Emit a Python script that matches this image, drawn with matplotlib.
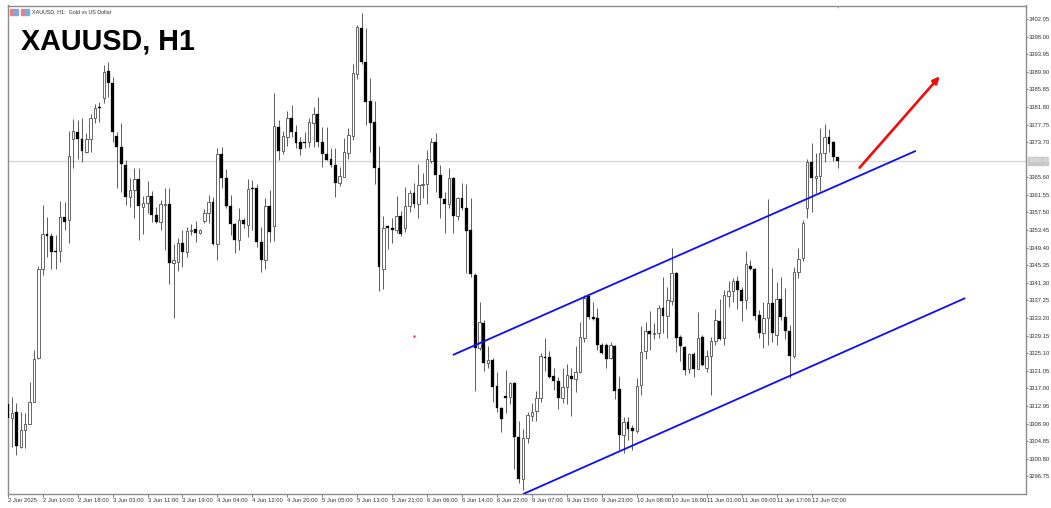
import matplotlib
matplotlib.use("Agg")
import matplotlib.pyplot as plt
from matplotlib.patches import Rectangle

# 1) Candle data (hourly bars read off the chart)
opens = [3313.4,3310.2,3311.6,3303.6,3307.5,3308.8,3313.9,3323.9,3344.5,3352.6,
 3352.1,3348.7,3348.7,3356.5,3355.8,3374.4,3376.0,3374.4,3371.4,3374.4,
 3379.3,3381.8,3383.9,3390.1,3387.3,3375.1,3372.6,3368.4,3361.1,3362.7,
 3365.2,3358.8,3359.7,3361.3,3356.9,3355.3,3359.2,3359.5,3345.9,3346.1,
 3350.5,3348.4,3353.3,3353.7,3352.8,3355.6,3357.4,3359.9,3350.3,3371.0,
 3365.4,3359.0,3354.9,3351.2,3355.8,3354.6,3363.2,3363.2,3350.7,3346.6,
 3359.0,3354.4,3377.2,3371.7,3374.9,3379.3,3376.0,3373.7,3373.7,3373.7,
 3378.1,3380.2,3373.7,3371.0,3369.8,3368.4,3364.3,3365.7,3371.2,3375.1,
 3389.4,3400.0,3392.2,3383.2,3378.3,3367.8,3344.5,3354.4,3353.9,3353.5,
 3356.7,3353.9,3359.0,3362.0,3359.5,3363.8,3364.1,3369.4,3373.7,3366.1,
 3360.6,3359.5,3365.4,3356.7,3360.9,3358.6,3353.5,3343.1,3326.3,3332.1,
 3322.9,3323.6,3317.6,3312.5,3315.3,3315.1,3318.3,3305.8,3296.2,3305.6,
 3310.7,3311.8,3314.8,3324.3,3324.3,3319.9,3318.7,3314.8,3317.4,3319.9,
 3319.2,3320.8,3328.6,3338.3,3333.5,3333.2,3327.0,3327.0,3324.0,3326.8,
 3316.9,3306.3,3309.3,3307.9,3307.2,3317.8,3325.6,3330.2,3329.6,3329.8,
 3335.5,3333.7,3337.1,3343.6,3328.9,3326.6,3321.5,3325.0,3321.5,3328.9,
 3321.7,3324.5,3327.9,3332.5,3328.6,3338.3,3339.4,3341.7,3339.7,3337.4,
 3345.2,3344.5,3333.9,3329.8,3333.2,3336.7,3329.3,3337.6,3333.5,3330.2,
 3324.5,3343.8,3347.0,3358.6,3369.1,3365.4,3365.9,3371.2,3374.9,3373.7,3370.3]

highs = [3313.4,3315.1,3313.7,3311.6,3311.4,3318.5,3325.9,3345.2,3359.2,3356.5,
 3352.8,3352.3,3360.2,3359.9,3376.3,3379.0,3378.8,3379.3,3375.8,3380.2,
 3382.5,3382.9,3391.5,3392.2,3388.7,3376.0,3378.1,3369.6,3365.4,3367.8,
 3367.8,3361.3,3364.8,3362.4,3358.8,3360.4,3363.2,3363.2,3350.3,3351.6,
 3353.5,3354.2,3354.9,3355.6,3353.7,3358.3,3361.5,3361.1,3372.4,3372.6,
 3367.5,3361.5,3355.1,3358.6,3356.3,3365.2,3365.0,3364.1,3354.2,3360.9,
 3362.7,3385.0,3378.8,3376.3,3380.9,3382.3,3377.7,3374.9,3376.0,3379.3,
 3381.8,3384.1,3377.2,3377.2,3372.4,3372.4,3368.0,3374.7,3377.0,3391.7,
 3400.7,3403.4,3400.0,3388.5,3383.2,3372.8,3356.7,3354.6,3356.2,3361.3,
 3357.9,3363.4,3362.7,3364.3,3368.7,3366.6,3371.9,3374.7,3375.8,3368.4,
 3362.2,3367.8,3365.7,3361.1,3364.3,3364.1,3360.9,3343.6,3336.9,3332.8,
 3326.8,3324.0,3320.8,3312.8,3321.3,3318.5,3318.5,3309.5,3307.7,3311.6,
 3313.7,3316.4,3325.2,3328.6,3325.6,3321.7,3319.7,3321.7,3322.6,3321.7,
 3326.8,3332.3,3338.5,3338.5,3336.9,3335.5,3327.5,3327.5,3327.7,3327.0,
 3319.9,3310.4,3310.4,3308.6,3319.4,3331.4,3332.3,3334.8,3332.1,3336.2,
 3342.7,3340.4,3349.3,3343.8,3329.3,3326.8,3325.2,3325.4,3334.6,3329.3,
 3325.9,3328.9,3335.3,3337.6,3339.7,3341.7,3342.4,3342.9,3340.4,3348.7,
 3346.6,3344.7,3335.1,3336.9,3360.6,3344.7,3341.5,3342.7,3340.1,3331.6,
 3345.0,3349.3,3355.8,3369.8,3373.5,3371.2,3377.0,3377.9,3376.7,3374.0,3370.3]

lows = [3310.2,3303.5,3301.7,3303.3,3303.3,3308.8,3313.9,3323.8,3343.1,3347.3,
 3344.5,3344.5,3346.1,3353.5,3350.5,3367.8,3369.8,3369.1,3371.2,3371.4,
 3378.1,3378.3,3382.7,3384.1,3373.7,3363.1,3362.2,3359.2,3358.8,3356.3,
 3351.2,3352.6,3357.4,3355.3,3355.1,3353.5,3348.9,3341.1,3333.2,3344.1,
 3345.0,3347.3,3352.3,3350.7,3352.6,3355.1,3355.1,3350.0,3346.6,3363.2,
 3358.6,3352.3,3348.2,3348.9,3353.9,3351.9,3353.5,3349.6,3343.8,3344.5,
 3350.7,3351.0,3369.6,3371.0,3372.8,3374.9,3372.4,3370.8,3372.4,3372.6,
 3372.6,3372.6,3368.0,3369.6,3368.0,3361.1,3363.6,3365.7,3369.8,3374.2,
 3388.2,3391.7,3377.7,3371.4,3364.1,3339.4,3339.9,3349.1,3350.5,3352.8,
 3352.1,3353.0,3357.6,3358.6,3356.3,3360.9,3359.5,3368.9,3362.2,3356.3,
 3352.8,3358.6,3352.8,3355.8,3358.1,3343.6,3342.7,3316.4,3325.9,3321.0,
 3321.7,3313.9,3311.6,3307.0,3311.4,3313.4,3298.5,3295.3,3293.7,3304.5,
 3309.5,3309.5,3313.9,3321.0,3319.4,3316.7,3312.3,3313.7,3313.4,3310.7,
 3316.2,3320.6,3327.7,3333.0,3332.8,3325.9,3325.0,3321.7,3323.8,3314.6,
 3302.9,3302.2,3305.2,3302.9,3306.8,3315.5,3323.8,3325.9,3328.4,3328.6,
 3329.8,3328.6,3336.2,3325.4,3323.3,3320.1,3320.6,3319.7,3321.5,3322.2,
 3320.8,3315.5,3327.0,3328.2,3327.0,3335.8,3336.9,3335.3,3332.5,3335.3,
 3344.3,3332.8,3328.6,3326.3,3327.0,3327.7,3327.0,3332.8,3328.4,3319.4,
 3324.0,3342.4,3346.4,3356.3,3357.6,3362.0,3362.5,3369.1,3371.4,3369.4,3367.8]

closes = [3310.2,3311.4,3303.8,3307.5,3308.8,3313.9,3323.8,3344.5,3352.6,3352.1,
 3348.4,3348.4,3356.5,3355.3,3370.5,3376.3,3374.4,3371.7,3374.4,3379.3,
 3381.6,3381.6,3389.9,3387.3,3376.0,3372.6,3368.7,3361.1,3362.7,3365.2,
 3359.0,3359.7,3361.3,3356.9,3355.3,3359.5,3359.5,3345.9,3346.6,3350.5,
 3348.4,3353.3,3353.5,3352.8,3353.5,3357.4,3359.9,3350.3,3371.0,3365.4,
 3359.0,3354.9,3351.2,3355.8,3354.9,3362.9,3362.9,3350.7,3346.6,3359.0,
 3353.0,3377.4,3371.7,3375.1,3379.3,3376.0,3373.5,3372.1,3373.5,3378.3,
 3380.2,3373.7,3371.0,3369.6,3368.4,3364.3,3365.9,3371.4,3375.3,3389.6,
 3400.2,3392.2,3382.9,3378.1,3367.8,3345.0,3353.9,3353.9,3353.5,3356.7,
 3352.6,3359.0,3362.0,3359.5,3363.8,3364.1,3369.8,3373.7,3366.1,3360.9,
 3359.5,3365.4,3356.7,3360.9,3358.6,3353.3,3343.4,3326.3,3332.3,3322.9,
 3323.6,3317.4,3312.5,3310.0,3314.8,3318.3,3305.8,3296.2,3305.6,3310.9,
 3311.6,3314.8,3324.5,3324.0,3319.7,3318.7,3314.8,3317.4,3320.1,3319.2,
 3320.8,3328.9,3337.8,3333.5,3333.0,3327.0,3325.2,3323.8,3327.0,3316.4,
 3306.3,3309.3,3307.7,3307.2,3317.6,3325.4,3330.2,3329.6,3329.8,3335.5,
 3333.7,3337.4,3343.6,3328.6,3326.8,3321.3,3325.0,3321.5,3328.6,3322.4,
 3324.5,3327.9,3332.8,3328.4,3338.5,3339.4,3341.7,3339.7,3337.1,3345.7,
 3344.5,3333.7,3329.8,3333.2,3336.7,3329.8,3337.6,3333.5,3330.2,3324.5,
 3343.8,3346.8,3355.1,3369.1,3365.4,3365.9,3371.2,3374.9,3373.3,3370.3,3369.4]

date_labels = ["2 Jun 2025", "2 Jun 10:00", "2 Jun 18:00", "3 Jun 03:00", "3 Jun 11:00",
               "3 Jun 19:00", "4 Jun 04:00", "4 Jun 12:00", "4 Jun 20:00", "5 Jun 05:00",
               "5 Jun 13:00", "5 Jun 21:00", "6 Jun 06:00", "6 Jun 14:00", "6 Jun 22:00",
               "9 Jun 07:00", "9 Jun 15:00", "9 Jun 23:00", "10 Jun 08:00", "10 Jun 16:00",
               "11 Jun 01:00", "11 Jun 09:00", "11 Jun 17:00", "12 Jun 02:00"]
price_ticks = [3402.05, 3398.00, 3393.95, 3389.90, 3385.85, 3381.80, 3377.75, 3373.70,
               3365.60, 3361.55, 3357.50, 3353.45, 3349.40, 3345.35, 3341.30, 3337.25,
               3333.20, 3329.15, 3325.10, 3321.05, 3317.00, 3312.95, 3308.90, 3304.85,
               3300.80, 3296.75]

# drawn objects, as (bar number, price)
upper_line_x = [101.9, 207.9]
upper_line_y = [3324.7, 3371.7]
lower_line_x = [118.0, 219.2]
lower_line_y = [3292.7, 3337.8]
arrow_x = [195.0, 213.4]
arrow_y = [3367.8, 3388.9]
last_price = 3369.4

W, H = 1051, 508
fig = plt.figure(figsize=(W / 100, H / 100), dpi=100, facecolor="white")
ax = fig.add_axes([7.5 / W, 1 - 494 / H, (1026 - 7.5) / W, (494 - 5.5) / H])
ax.set_xlim(-0.05, 233.1)
ax.set_ylim(3292.7, 3405.15)

# 2) Candles
for i in range(len(opens)):
    ax.vlines(i, lows[i], highs[i], color="#5c5c5c", lw=0.7, zorder=2)
    bottom = min(opens[i], closes[i])
    height = max(abs(closes[i] - opens[i]), 0.25)
    if closes[i] < opens[i]:
        ax.bar(i, height, width=0.66, bottom=bottom, color="black", edgecolor="black", lw=0.2, zorder=3)
    else:
        ax.bar(i, height, width=0.56, bottom=bottom, color="white", edgecolor="#4f4f4f", lw=0.6, zorder=3)

# 3) Last price line, channel and arrow
ax.axhline(last_price, color="#d8d8d8", lw=1, zorder=1)
ax.plot(upper_line_x, upper_line_y, color="#0c0cff", lw=1.3, zorder=4, solid_capstyle="butt")
ax.plot(lower_line_x, lower_line_y, color="#0c0cff", lw=1.3, zorder=4, solid_capstyle="butt")
ax.annotate("", xy=(arrow_x[1], arrow_y[1]), xytext=(arrow_x[0], arrow_y[0]), zorder=5,
            arrowprops=dict(arrowstyle="-|>,head_width=0.18,head_length=0.4", color="#f50a0a", lw=1.9,
                            shrinkA=0, shrinkB=0))
ax.plot([93], [3329.1], "s", color="#e8102a", ms=1.4, mew=0)

# 4) Axes
for s in ax.spines.values():
    s.set_color("#8c8c8c")
    s.set_linewidth(1.0)
ax.yaxis.tick_right()
ax.set_yticks(price_ticks)
ax.set_yticklabels([f"{p:.2f}" for p in price_ticks], fontsize=4.2, color="#333333", family="Liberation Sans")
ax.tick_params(axis="y", length=1.4, width=0.6, color="#666666", pad=0.6)
ax.set_xticks(range(0, 8 * len(date_labels), 8))
ax.set_xticklabels(date_labels, fontsize=4.2, color="#333333", family="Liberation Sans", ha="left")
ax.tick_params(axis="x", length=2, width=0.6, color="#666666", pad=1)

# 5) Last price tag, header and big title
fig.patches.append(Rectangle((1028 / W, 1 - 165 / H), 20 / W, 8 / H, transform=fig.transFigure, color="#c8c8c8"))
fig.text(1029 / W, 1 - 161 / H, f"{last_price:.2f}", fontsize=4.2, color="#eeeeee", va="center",
         family="Liberation Sans")
fig.text(32 / W, 1 - 12 / H, "XAUUSD, H1:  Gold vs US Dollar", fontsize=3.85, color="#333333", va="center",
         family="Liberation Sans")
fig.text(21 / W, 1 - 50 / H, "XAUUSD, H1", fontsize=20.7, fontweight="bold", color="black",
         family="Liberation Sans", va="baseline")
icon_boxes = [(10, "#e88080"), (14, "#80a8e0"), (21, "#e88080"), (25, "#70b0e8")]
for x0, col in icon_boxes:
    fig.patches.append(Rectangle((x0 / W, 1 - 15 / H), 4 / W, 6 / H, transform=fig.transFigure, color=col))

# small marker on the top edge
fig.text(838 / W, 1 - 6.5 / H, "\u25be", fontsize=4, color="#a0a0a0", ha="center", va="center")

fig.savefig("out.png", dpi=100, facecolor="white")
